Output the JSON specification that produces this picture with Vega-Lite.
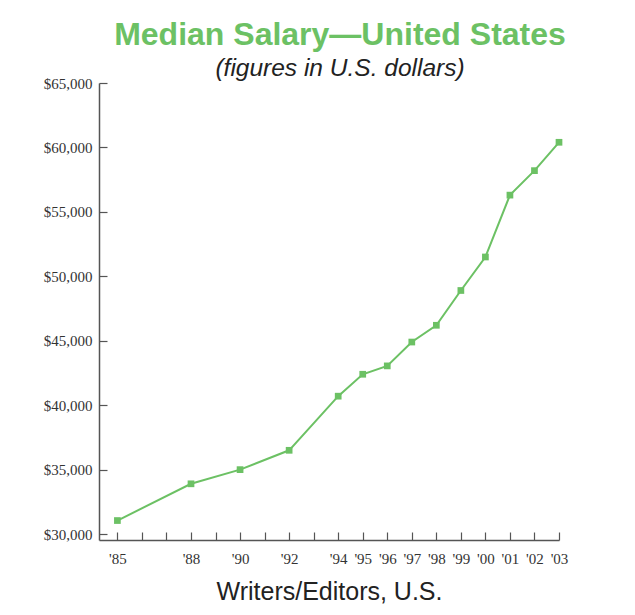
{
  "$schema": "https://vega.github.io/schema/vega-lite/v6.json",
  "width": 460,
  "height": 457,
  "autosize": "none",
  "padding": {"left": 99, "top": 83, "right": 76, "bottom": 75},
  "background": "white",
  "title": {
    "text": "Median Salary—United States",
    "subtitle": "(figures in U.S. dollars)",
    "anchor": "middle",
    "dx": 11,
    "offset": -5,
    "font": "Liberation Sans",
    "fontSize": 32,
    "fontWeight": "bold",
    "color": "#6cc164",
    "subtitleFont": "Liberation Sans",
    "subtitleFontSize": 24.5,
    "subtitleFontStyle": "italic",
    "subtitleColor": "#222222",
    "subtitlePadding": 5
  },
  "data": {
    "values": [
      {"year": 1985, "salary": 31050},
      {"year": 1988, "salary": 33900},
      {"year": 1990, "salary": 35000},
      {"year": 1992, "salary": 36500},
      {"year": 1994, "salary": 40700},
      {"year": 1995, "salary": 42400},
      {"year": 1996, "salary": 43050},
      {"year": 1997, "salary": 44900},
      {"year": 1998, "salary": 46200},
      {"year": 1999, "salary": 48900},
      {"year": 2000, "salary": 51500},
      {"year": 2001, "salary": 56300},
      {"year": 2002, "salary": 58200},
      {"year": 2003, "salary": 60400}
    ]
  },
  "encoding": {
    "x": {
      "field": "year",
      "type": "quantitative",
      "scale": {"domain": [1984.25, 2003], "nice": false, "zero": false},
      "axis": {
        "title": "Writers/Editors, U.S.",
        "values": [1985,1986,1987,1988,1989,1990,1991,1992,1993,1994,1995,1996,1997,1998,1999,2000,2001,2002,2003],
        "labelExpr": "indexof([1985,1988,1990,1992,1994,1995,1996,1997,1998,1999,2000,2001,2002,2003], datum.value) >= 0 ? \"'\" + slice(toString(datum.value), 2) : ''",
        "grid": false,
        "tickSize": -8,
        "labelPadding": 19,
        "labelFont": "Liberation Serif",
        "labelFontSize": 15,
        "labelColor": "#333333",
        "labelOverlap": false,
        "labelFlush": false,
        "domainColor": "#555555",
        "domainWidth": 1.5,
        "tickColor": "#555555",
        "tickWidth": 1.2,
        "titleFont": "Liberation Sans",
        "titleFontSize": 25,
        "titleFontWeight": "normal",
        "titleColor": "#222222",
        "titlePadding": 13
      }
    },
    "y": {
      "field": "salary",
      "type": "quantitative",
      "scale": {"domain": [29540, 65000], "nice": false, "zero": false},
      "axis": {
        "title": null,
        "values": [30000, 35000, 40000, 45000, 50000, 55000, 60000, 65000],
        "format": "$,.0f",
        "grid": false,
        "tickSize": -8,
        "labelPadding": 15,
        "labelFont": "Liberation Serif",
        "labelFontSize": 15,
        "labelColor": "#333333",
        "labelFlush": false,
        "domainColor": "#555555",
        "domainWidth": 1.5,
        "tickColor": "#555555",
        "tickWidth": 1.2
      }
    }
  },
  "layer": [
    {"mark": {"type": "line", "color": "#6cc164", "strokeWidth": 2}},
    {"mark": {"type": "point", "shape": "square", "filled": true, "opacity": 1, "color": "#6cc164", "size": 45}}
  ],
  "config": {"view": {"stroke": null}}
}
